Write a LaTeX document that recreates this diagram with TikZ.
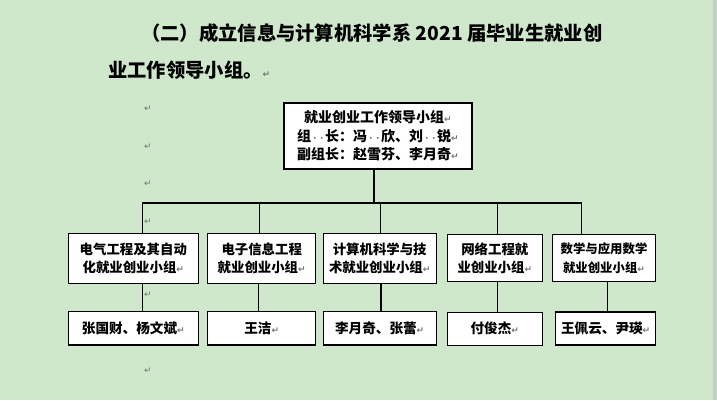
\documentclass[tikz,border=0pt]{standalone}
\usepackage{fontspec}
\newfontfamily\cjk{Noto Sans CJK SC}
\newfontfamily\dejavu{DejaVu Sans}
\usepackage{tikz}
\definecolor{pagegreen}{RGB}{207,232,204}
\definecolor{edgegrey}{RGB}{196,208,196}
\definecolor{markgrey}{RGB}{115,115,115}
\newcommand{\rmark}{{\dejavu\fontsize{9}{9}\selectfont\color{markgrey}↵}}
\newcommand{\spdot}{\makebox[7pt]{\dejavu\bfseries\fontsize{9}{9}\selectfont\color{markgrey}·}}
\tikzset{
  leader/.style={draw=black,line width=1.1pt,fill=white,inner sep=0pt,align=center,
    font=\cjk\bfseries\fontsize{14}{18.5}\selectfont},
  group/.style={leader,font=\cjk\bfseries\fontsize{13.4}{18.5}\selectfont},
  member/.style={leader,font=\cjk\bfseries\fontsize{13.6}{18.5}\selectfont},
  heading/.style={anchor=west,inner sep=0pt,font=\cjk\bfseries\fontsize{19.3}{19.3}\selectfont},
  retmark/.style={inner sep=0pt},
  link/.style={line width=1.1pt}
}
\begin{document}
\begin{tikzpicture}[x=1pt,y=-1pt]
\fill [pagegreen] (0,0) rectangle (717,400);
\fill [edgegrey] (713,0) rectangle (717,400);
\useasboundingbox (0,0) rectangle (717,400);

\node [heading] (title1) at (141,33) {（二）成立信息与计算机科学系 2021 届毕业生就业创};
\node [heading] (title2) at (108,70) {业工作领导小组。\rmark};

\foreach \y [count=\k] in {109,147,184,222,295,371}
  \node [retmark] (ret\k) at (148,\y) {\rmark};

\node [leader,minimum width=188pt,minimum height=66pt] (top) at (378,136)
  {就业创业工作领导小组\rmark\\组\spdot\spdot 长：冯\spdot\spdot 欣、刘\spdot\spdot 锐\rmark\\副组长：赵雪芬、李月奇\rmark};

\node [group,minimum width=130pt,minimum height=50pt] (g1) at (133.3,258.3) {电气工程及其自动\\化就业创业小组\rmark};
\node [group,minimum width=108pt,minimum height=50pt] (g2) at (261.7,258.3) {电子信息工程\\就业创业小组\rmark};
\node [group,minimum width=112.7pt,minimum height=50pt] (g3) at (379.7,258.3) {计算机科学与技\\术就业创业小组\rmark};
\node [group,minimum width=95pt,minimum height=47pt] (g4) at (494.8,258.3) {网络工程就\\业创业小组\rmark};
\node [group,minimum width=103.4pt,minimum height=47pt,font=\cjk\bfseries\fontsize{12.4}{18.5}\selectfont] (g5) at (604,258.3) {数学与应用数学\\就业创业小组\rmark};

\node [member,minimum width=130pt,minimum height=33.3pt] (m1) at (133.3,328.3) {张国财、杨文斌\rmark};
\node [member,minimum width=108pt,minimum height=33.3pt] (m2) at (261.7,328.3) {王洁\rmark};
\node [member,minimum width=112.7pt,minimum height=33.3pt] (m3) at (379.7,328.3) {李月奇、张蕾\rmark};
\node [member,minimum width=95pt,minimum height=33pt] (m4) at (494.8,328.7) {付俊杰\rmark};
\node [member,minimum width=100pt,minimum height=33pt] (m5) at (605.7,328.5) {王佩云、尹瑛\rmark};

\coordinate (bus) at (374,203);
\draw [link] ([xshift=-4pt]top.south) -- (bus);
\foreach \i/\dx in {1/9.4,2/-2.4,3/1,4/2.5,5/-22.7}
  \draw [link] ([xshift=\dx pt]g\i.north) |- (bus);
\foreach \i/\dx in {1/9.4,2/-3,3/1.3,4/2.5,5/3.7}
  \draw [link] ([xshift=\dx pt]g\i.south) -- ([xshift=\dx pt]g\i.south |- m\i.north);
\end{tikzpicture}
\end{document}
